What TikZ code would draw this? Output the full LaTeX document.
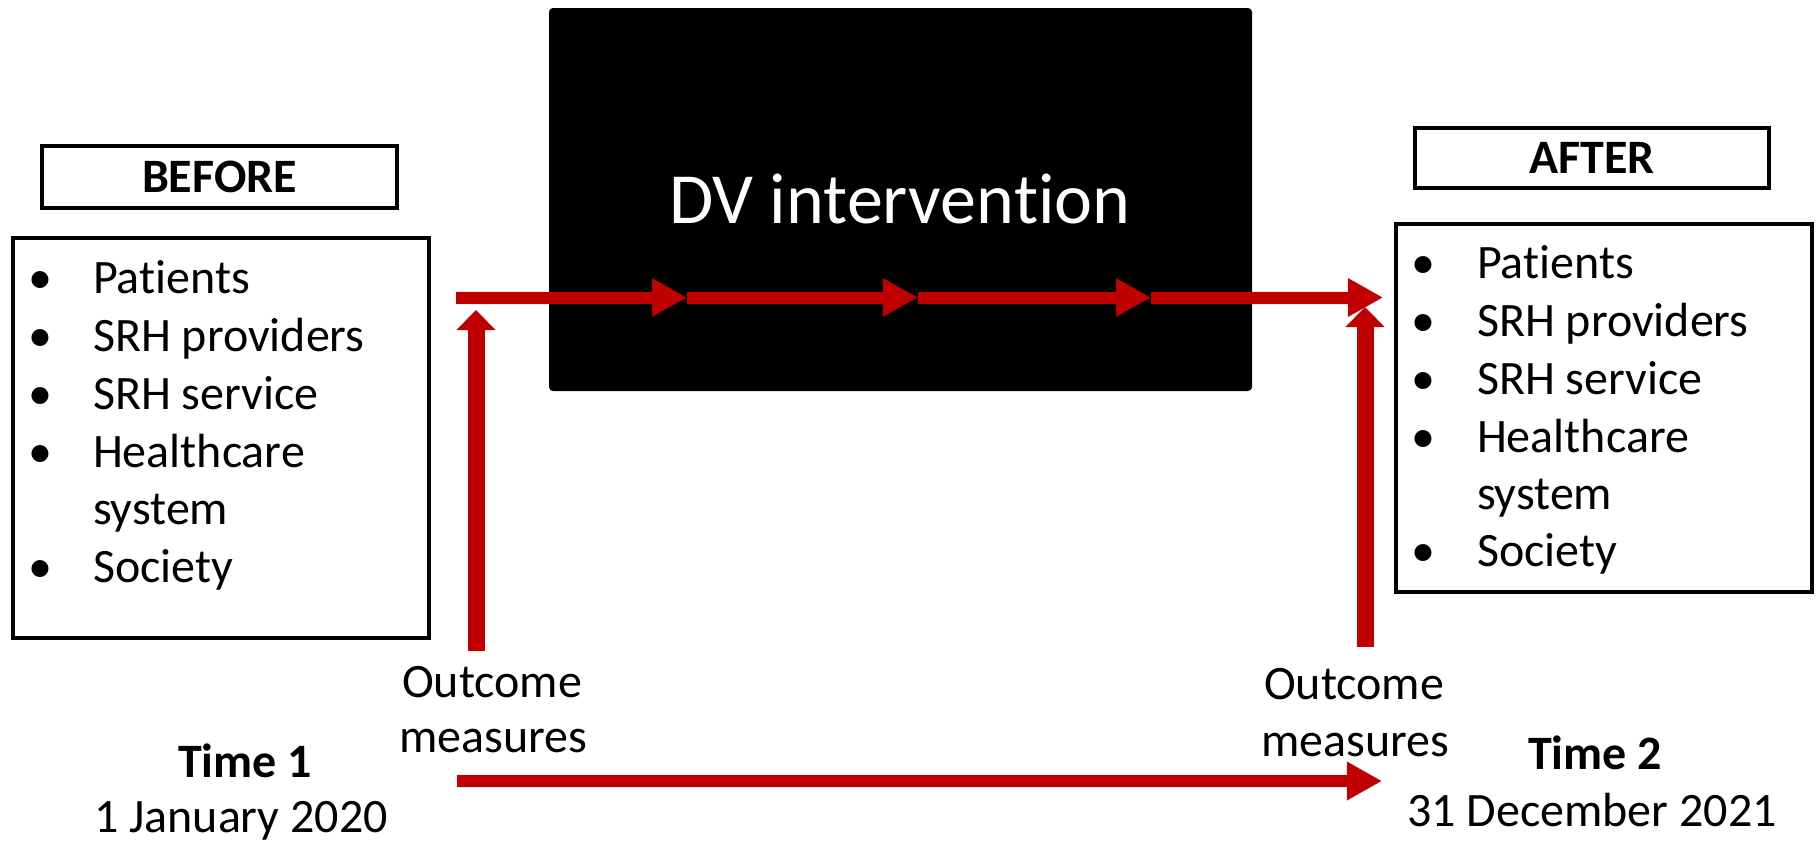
\documentclass[tikz,border=0pt]{standalone}
\usepackage{fontspec}
\setmainfont{Carlito}[Ligatures={NoCommon,NoRare,NoContextual},Contextuals=NoAlternate]
\usetikzlibrary{arrows.meta}
\definecolor{arrred}{HTML}{C00000}
\begin{document}
\begin{tikzpicture}[x=0.5pt,y=-0.5pt,
  txt/.style={font=\fontsize{24}{28.8}\selectfont, inner sep=0pt, outer sep=0pt},
  btxt/.style={font=\fontsize{24}{28.8}\selectfont\bfseries, inner sep=0pt, outer sep=0pt},
  framebox/.style={draw=black, line width=2pt, inner sep=0pt, rectangle},
  harrow/.style={draw=arrred, line width=6pt, -{Triangle[length=17.5pt,width=18pt]}},
  varrow/.style={draw=arrred, line width=8.5pt, -{Triangle[length=10pt,width=19pt]}},
  shadowA/.style={draw=black, draw opacity=0.06, line width=7pt, yshift=-4pt, xshift=1pt, -{Triangle[length=18pt,width=20pt]}},
  shadowB/.style={draw=black, draw opacity=0.10, line width=5pt, yshift=-3pt, xshift=1pt, -{Triangle[length=17.5pt,width=18pt]}}]
\useasboundingbox (0,0) rectangle (1820,841);

% black intervention box
\node[fill=black, rounded corners=2pt, minimum width=351.5pt, minimum height=191.5pt, inner sep=0pt] (dv) at (900.5,199.5) {};
\node[font=\fontsize{36}{43}\selectfont, text=white, inner sep=0pt, anchor=base] (dvtext) at (900,223) {DV interven\kern0pt tion};

% header boxes
\node[framebox, minimum width=177.5pt, minimum height=31pt] (before) at (219.5,177) {};
\node[btxt, anchor=base] (beforetxt) at (219.5,192) {BEFORE};
\node[framebox, minimum width=177pt, minimum height=30pt] (after) at (1592,158) {};
\node[btxt, anchor=base] (aftertxt) at (1592,173) {AFTER};

% list boxes
\node[framebox, minimum width=208pt, minimum height=200pt] (leftbox) at (221,438) {};
\node[framebox, minimum width=208pt, minimum height=184pt] (rightbox) at (1604,408) {};

% left list
\node[txt, anchor=base] (lb1) at (40,293) {•};
\node[txt, anchor=base west] (lt1) at (93,293) {Pat\kern0pt ients};
\node[txt, anchor=base] (lb2) at (40,351) {•};
\node[txt, anchor=base west] (lt2) at (93,351) {SRH providers};
\node[txt, anchor=base] (lb3) at (40,409) {•};
\node[txt, anchor=base west] (lt3) at (93,409) {SRH service};
\node[txt, anchor=base] (lb4) at (40,467) {•};
\node[txt, anchor=base west] (lt4) at (93,467) {Healthcare};
\node[txt, anchor=base west] (lt5) at (93,524) {system};
\node[txt, anchor=base] (lb6) at (40,582) {•};
\node[txt, anchor=base west] (lt6) at (93,582) {Society};

% right list
\node[txt, anchor=base] (rb1) at (1423,278) {•};
\node[txt, anchor=base west] (rt1) at (1477,278) {Pat\kern0pt ients};
\node[txt, anchor=base] (rb2) at (1423,336) {•};
\node[txt, anchor=base west] (rt2) at (1477,336) {SRH providers};
\node[txt, anchor=base] (rb3) at (1423,394) {•};
\node[txt, anchor=base west] (rt3) at (1477,394) {SRH service};
\node[txt, anchor=base] (rb4) at (1423,452) {•};
\node[txt, anchor=base west] (rt4) at (1477,452) {Healthcare};
\node[txt, anchor=base west] (rt5) at (1477,509) {system};
\node[txt, anchor=base] (rb6) at (1423,566) {•};
\node[txt, anchor=base west] (rt6) at (1477,566) {Society};

% bottom texts
\node[txt, anchor=base] (om1a) at (492,697) {Outcome};
\node[txt, anchor=base] (om1b) at (493,752) {measures};
\node[txt, anchor=base] (om2a) at (1354,699) {Outcome};
\node[txt, anchor=base] (om2b) at (1355,756) {measures};
\node[btxt, anchor=base] (time1) at (245,777) {Time 1};
\node[txt, anchor=base] (date1) at (241,832) {1 January 2020};
\node[btxt, anchor=base] (time2) at (1595,769) {Time 2};
\node[txt, anchor=base] (date2) at (1592,826) {31 December 2021};

% arrow coordinates
\coordinate (t0) at (456,297.5);
\coordinate (t1) at (687,297.5);
\coordinate (t2) at (918,297.5);
\coordinate (t3) at (1151,297.5);
\coordinate (t4) at (1383,297.5);
\coordinate (v1s) at (476,651);
\coordinate (v1e) at (476,310);
\coordinate (v2s) at (1365,647);
\coordinate (v2e) at (1365,307);
\coordinate (b0) at (457,781);
\coordinate (b1) at (1382,781);

% shadows
\foreach \s in {shadowA,shadowB}{
  \draw[\s] (t0) -- (t1);
  \draw[\s] (t1) -- (t2);
  \draw[\s] (t2) -- (t3);
  \draw[\s] (t3) -- (t4);
  \draw[\s] (b0) -- (b1);
}

% arrows
\draw[varrow] (v1s) -- (v1e);
\draw[varrow] (v2s) -- (v2e);
\draw[harrow] (t0) -- (t1);
\draw[harrow] (t1) -- (t2);
\draw[harrow] (t2) -- (t3);
\draw[harrow] (t3) -- (t4);
\draw[harrow] (b0) -- (b1);
\end{tikzpicture}
\end{document}
